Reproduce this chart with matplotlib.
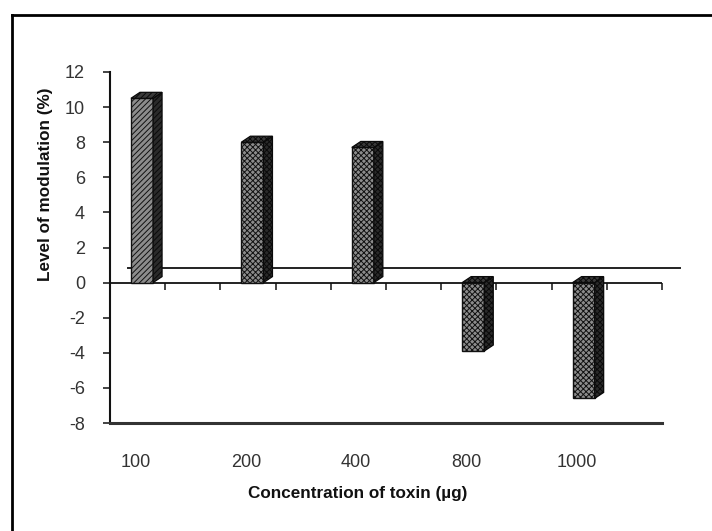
import matplotlib
matplotlib.use('Agg')
import matplotlib.pyplot as plt
import matplotlib.transforms as mtrans
from matplotlib.patches import Polygon
from matplotlib.lines import Line2D

categories = ['100', '200', '400', '800', '1000']
values = [10.5, 8.0, 7.7, -3.9, -6.6]
yticks = list(range(-8, 13, 2))
xlabel = 'Concentration of toxin (µg)'
ylabel = 'Level of modulation (%)'

plt.rcParams['font.family'] = ['Liberation Sans', 'DejaVu Sans']
plt.rcParams['hatch.linewidth'] = 0.7
plt.rcParams['hatch.color'] = '#1a1a1a'

DPI = 100
fig = plt.figure(figsize=(7.12, 5.31), dpi=DPI)
ax = fig.add_axes([110/712, (531-423)/531, 552/712, 351/531])
ax.set_xlim(0, 10)
ax.set_ylim(-8, 12)

positions = [0.58 + 2*i for i in range(len(categories))]
width = 0.4
hatches = ['//////'] + ['xxxxxx'] * (len(categories) - 1)

# zero (category) axis line with downward ticks
ax.axhline(0, color='#111111', lw=1.3, zorder=1)
ax.plot(range(0, 11), [0]*11, ls='none', marker=3, markersize=5,
        markeredgewidth=1.1, color='#111111', clip_on=False, zorder=1)

# back-wall floor line (3D depth offset)
off = mtrans.ScaledTranslation(18/DPI, 15/DPI, fig.dpi_scale_trans)
ax.plot([0, 10], [0, 0], color='#222222', lw=1.4, transform=ax.transData + off,
        clip_on=False, zorder=1)

# front faces
bars = ax.bar(positions, values, width, facecolor='#8c8c8c', edgecolor='#111111',
              lw=1.0, zorder=3)
for b, h in zip(bars, hatches):
    b.set_hatch(h)

# side and top faces
dx, dy = 9, 6
for p, v, h in zip(positions, values, hatches):
    x0, x1 = p - width/2, p + width/2
    yt, yb = max(v, 0), min(v, 0)
    X0, Yt = ax.transData.transform((x0, yt))
    X1, Yb = ax.transData.transform((x1, yb))
    side = [(X1, Yb), (X1, Yt), (X1+dx, Yt+dy), (X1+dx, Yb+dy)]
    top = [(X0, Yt), (X1, Yt), (X1+dx, Yt+dy), (X0+dx, Yt+dy)]
    for verts, fc in ((side, '#2a2a2a'), (top, '#3a3a3a')):
        poly = Polygon(verts, closed=True, facecolor=fc, edgecolor='#0a0a0a',
                       lw=0.9, hatch=h, transform=mtrans.IdentityTransform(),
                       zorder=4, clip_on=False)
        fig.add_artist(poly)

# axes styling
for s in ('top', 'right'):
    ax.spines[s].set_visible(False)
ax.spines['left'].set_linewidth(1.5)
ax.spines['left'].set_color('#111111')
ax.spines['bottom'].set_linewidth(2.2)
ax.spines['bottom'].set_color('#333333')

ax.set_yticks(yticks)
ax.set_yticklabels([str(t) for t in yticks])
ax.tick_params(axis='y', direction='out', length=5, width=1.1, color='#111111',
               labelsize=13, labelcolor='#333333', pad=13)
ax.set_xticks([p - 0.12 for p in positions])
ax.set_xticklabels(categories)
ax.tick_params(axis='x', length=0, labelsize=13, labelcolor='#333333', pad=22)

ax.set_ylabel(ylabel, fontsize=12.3, fontweight='bold', color='#111111')
ax.yaxis.set_label_coords(-0.103, 0.681)
ax.set_xlabel(xlabel, fontsize=12.3, fontweight='bold', color='#111111')
ax.xaxis.set_label_coords(0.449, -0.18)

# outer border (left and top)
fig.add_artist(Line2D([12/712, 12/712], [0, 1 - 15/531], transform=fig.transFigure,
                      color='black', lw=2))
fig.add_artist(Line2D([12/712, 1], [1 - 15/531, 1 - 15/531], transform=fig.transFigure,
                      color='black', lw=2))

fig.savefig('out.png', dpi=DPI)
